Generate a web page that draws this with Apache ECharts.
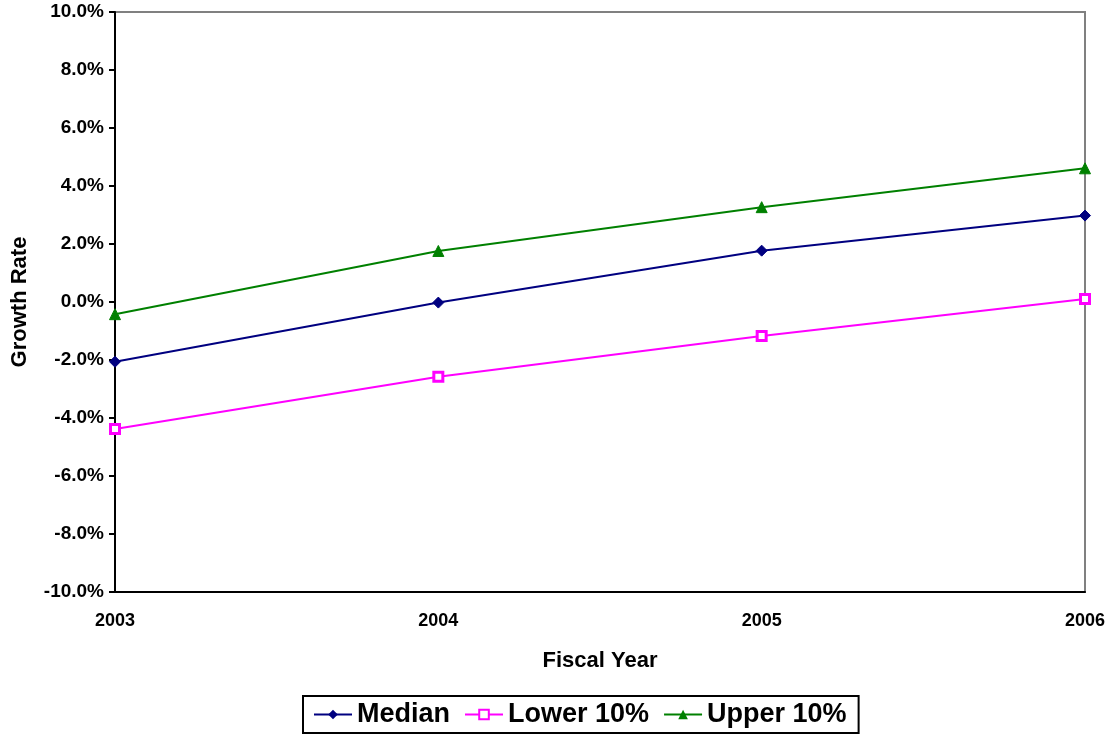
<!DOCTYPE html>
<html>
<head>
<meta charset="utf-8">
<script src="https://cdn.jsdelivr.net/npm/echarts@6/dist/echarts.min.js"></script>
<style>html,body{margin:0;padding:0;background:#fff}#c{width:1115px;height:735px}</style>
</head>
<body>
<div id="c"></div>
<script>
const years = ['2003', '2004', '2005', '2006'];
const median = [-2.06, -0.02, 1.77, 2.98];
const lower10 = [-4.38, -2.58, -1.17, 0.10];
const upper10 = [-0.42, 1.76, 3.27, 4.61];

const FONT = '"Liberation Sans", Arial, sans-serif';
const chart = echarts.init(document.getElementById('c'), null, {renderer: 'canvas'});
function ser(name, data, color, symbol, size, extra) {
  return Object.assign({
    name, type: 'line', data, symbol, symbolSize: size,
    lineStyle: {color, width: 2}, itemStyle: {color, borderColor: color},
    color, animation: false
  }, extra || {});
}
chart.setOption({
  animation: false,
  grid: {left: 115, right: 30, top: 12, bottom: 143, show: true, borderColor: '#808080', borderWidth: 2, backgroundColor: '#fff'},
  legend: {
    bottom: 2, left: 303,
    data: ['Median', 'Lower 10%', 'Upper 10%'],
    borderColor: '#000', borderWidth: 2, padding: [5, 12, 5, 10],
    itemWidth: 38, itemHeight: 12, itemGap: 14,
    textStyle: {fontFamily: FONT, fontWeight: 'bold', fontSize: 27, color: '#000'}
  },
  xAxis: {
    type: 'category', data: years, boundaryGap: false,
    name: 'Fiscal Year', nameLocation: 'middle', nameGap: 58,
    nameTextStyle: {fontFamily: FONT, fontWeight: 'bold', fontSize: 22, color: '#000'},
    axisLine: {onZero: false, lineStyle: {color: '#000', width: 2}},
    axisTick: {show: false},
    axisLabel: {fontFamily: FONT, fontWeight: 'bold', fontSize: 18, color: '#000', margin: 20},
    splitLine: {show: false}
  },
  yAxis: {
    type: 'value', min: -10, max: 10, interval: 2,
    name: 'Growth Rate', nameLocation: 'middle', nameGap: 84,
    nameTextStyle: {fontFamily: FONT, fontWeight: 'bold', fontSize: 22, color: '#000'},
    axisLine: {show: true, lineStyle: {color: '#000', width: 2}},
    axisTick: {show: true, inside: false, length: 6, lineStyle: {color: '#000', width: 2}},
    axisLabel: {fontFamily: FONT, fontWeight: 'bold', fontSize: 19, color: '#000', margin: 11,
      formatter: v => v.toFixed(1) + '%'},
    splitLine: {show: false}
  },
  series: [
    ser('Median', median, '#000080', 'diamond', 11),
    ser('Lower 10%', lower10, '#FF00FF', 'rect', 9, {itemStyle: {color: '#fff', borderColor: '#FF00FF', borderWidth: 3}}),
    ser('Upper 10%', upper10, '#008000', 'triangle', 11)
  ]
});
</script>
</body>
</html>
